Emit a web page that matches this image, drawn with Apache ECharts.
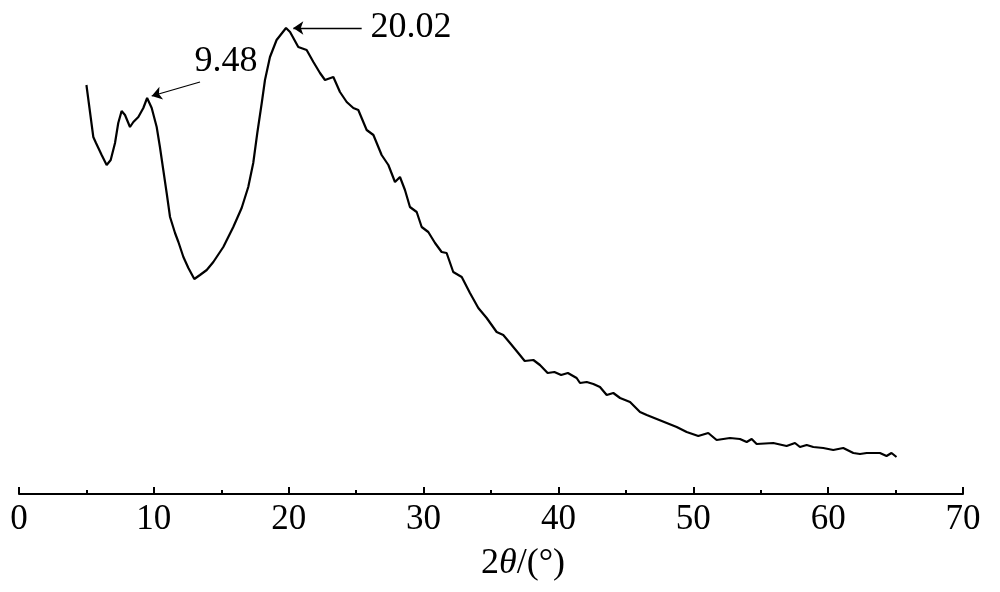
<!DOCTYPE html>
<html>
<head>
<meta charset="utf-8">
<script src="https://cdn.jsdelivr.net/npm/echarts@6/dist/echarts.min.js"></script>
<style>html,body{margin:0;padding:0;background:#fff}#c{width:1000px;height:592px}</style>
</head>
<body>
<div id="c"></div>
<script>
const xValues = [5.0,5.51,5.71,6.13,6.5,6.8,7.12,7.36,7.61,7.86,8.23,8.48,8.85,9.22,9.5,9.84,10.21,10.45,10.7,10.95,11.2,11.57,11.82,12.19,12.56,13.0,13.42,13.92,14.41,15.15,15.89,16.51,17.0,17.37,17.67,18.0,18.24,18.61,19.1,19.8,20.1,20.71,21.33,21.83,22.32,22.69,23.31,23.8,24.3,24.79,25.16,25.78,26.28,26.89,27.39,27.88,28.25,28.62,28.99,29.49,29.86,30.35,30.85,31.34,31.71,32.2,32.83,33.44,34.06,34.68,35.42,35.91,36.41,37.02,37.5,38.14,38.63,39.2,39.7,40.2,40.7,41.35,41.6,42.1,42.59,43.08,43.58,44.07,44.57,45.31,46.05,46.55,47.29,48.03,48.77,49.51,50.37,51.11,51.73,52.72,53.46,53.96,54.33,54.7,55.93,56.92,57.54,57.91,58.41,58.9,59.64,60.38,61.12,61.87,62.36,62.86,63.84,64.33,64.7,65.07];
const intensity = [409,357,351,339,329,334,351,371,383,379,367,372,377,386,396,386,367,347,324,301,277,261,252,237,226,215,219,224,232,247,267,286,307,331,361,391,414,437,454,466,462,447,444,432,421,414,417,402,392,386,384,364,359,339,329,312,317,304,287,282,267,262,251,242,241,222,217,201,186,176,162,159,151,141,133,134,129,121,122,119,121,116,111,112,110,107,99,101,96,92,82,79,75,71,67,62,58,61,54,56,55,52,55,50,51,48,51,47,49,47,46,44,46,41,40,41,41,38,41,37];
const xTicks = {min: 0, max: 70, interval: 10};
const annotLabels = ['9.48', '20.02'];
const annotLabelAt = [[15.35, 432], [29.07, 466]];
const arrowFrom = [[13.42, 412], [25.41, 466]];
const arrowTo = [[9.84, 398], [20.34, 466]];

const serif = "'Liberation Serif','Times New Roman',serif";
const chart = echarts.init(document.getElementById('c'));
chart.setOption({
  animation: false,
  backgroundColor: '#fff',
  grid: {left: 19, right: 37, top: 14, bottom: 98, containLabel: false},
  xAxis: {
    type: 'value', min: xTicks.min, max: xTicks.max, interval: xTicks.interval,
    axisLine: {show: true, onZero: false, lineStyle: {color: '#000', width: 2}},
    axisTick: {show: true, inside: true, length: 7, lineStyle: {color: '#000', width: 2}},
    minorTick: {show: true, splitNumber: 2, length: 4, lineStyle: {color: '#000', width: 2}},
    splitLine: {show: false},
    axisLabel: {color: '#000', fontFamily: serif, fontSize: 35, margin: 8},
    name: '{n|2}{i|θ}{n|/(°)}',
    nameLocation: 'middle',
    nameGap: 52,
    nameTextStyle: {
      padding: [0, 0, 0, 64],
      rich: {
        n: {fontFamily: serif, fontSize: 36, color: '#000'},
        i: {fontFamily: serif, fontSize: 36, color: '#000', fontStyle: 'italic'}
      }
    }
  },
  yAxis: {type: 'value', min: 0, max: 480, show: false},
  series: [{
    type: 'line',
    data: xValues.map((x, i) => [x, intensity[i]]),
    showSymbol: false,
    symbol: 'none',
    lineStyle: {color: '#000', width: 2.2},
    markLine: {
      silent: true,
      symbol: ['none', 'arrow'],
      symbolSize: 10,
      lineStyle: {color: '#000', width: 1.3, type: 'solid'},
      label: {show: false},
      emphasis: {disabled: true},
      data: arrowFrom.map((f, i) => [{coord: f}, {coord: arrowTo[i]}])
    },
    markPoint: {
      silent: true,
      symbol: 'circle',
      symbolSize: 0,
      label: {show: true, position: 'inside', color: '#000', fontFamily: serif, fontSize: 36, formatter: p => p.name},
      data: annotLabels.map((t, i) => ({name: t, coord: annotLabelAt[i]}))
    }
  }]
});
</script>
</body>
</html>
